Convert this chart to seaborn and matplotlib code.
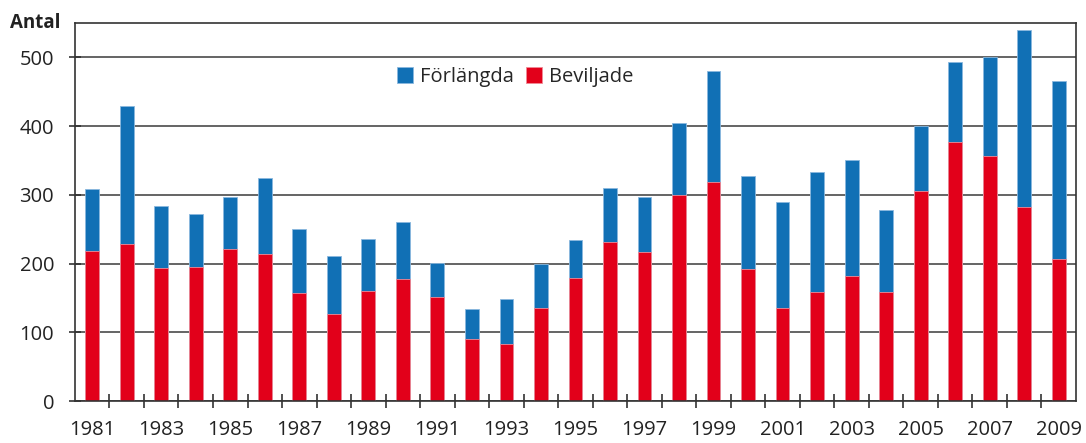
import numpy as np
import pandas as pd
import matplotlib
matplotlib.use('Agg')
import matplotlib.pyplot as plt
import seaborn as sns

# values
years = list(range(1981, 2010))
beviljade = [219, 228, 193, 195, 221, 214, 157, 126, 160, 177,
             151, 90, 83, 135, 179, 231, 217, 300, 318, 192,
             136, 158, 182, 158, 305, 377, 356, 282, 207]
totalt = [308, 429, 284, 272, 297, 325, 250, 211, 236, 260,
          201, 134, 148, 199, 234, 310, 297, 405, 480, 328,
          289, 333, 351, 278, 400, 494, 501, 540, 465]

blue = '#1170b5'
red = '#e2001a'

df = pd.DataFrame({'year': [str(y) for y in years],
                   'beviljade': beviljade,
                   'totalt': totalt})

sns.set_theme(style='white')
plt.rcParams['font.family'] = ['Open Sans', 'DejaVu Sans']

fig = plt.figure(figsize=(10.86, 4.43), dpi=100)
ax = fig.add_axes([0.069, 0.0948, 0.9218, 0.8532])

# stacked bars: total in blue, beviljade in red on top of it
sns.barplot(data=df, x='year', y='totalt', color=blue, width=0.4,
            edgecolor='#8ab8de', linewidth=0.6, saturation=1, ax=ax,
            label='Förlängda')
sns.barplot(data=df, x='year', y='beviljade', color=red, width=0.4,
            edgecolor='#f08a96', linewidth=0.6, saturation=1, ax=ax,
            label='Beviljade')

ax.set_xlim(-0.5, len(years) - 0.5)
ax.set_ylim(0, 550)
ax.set_yticks([0, 100, 200, 300, 400, 500])
ax.yaxis.grid(True, color='#3a3a3a', linewidth=1.1)
ax.set_axisbelow(True)

# labels on odd years only, ticks between bars
pos = np.arange(len(years))
ax.set_xticks(pos)
ax.set_xticklabels([str(y) if y % 2 == 1 else '' for y in years])
ax.set_xticks(pos[:-1] + 0.5, minor=True)
ax.tick_params(axis='x', which='major', length=0, pad=14, labelsize=14.5,
               colors='#222222')
ax.tick_params(axis='x', which='minor', bottom=True, length=10,
               direction='inout', width=1.2, color='#333333')
ax.tick_params(axis='y', left=True, length=8, direction='inout', width=1.2,
               color='#333333', labelsize=14.5, labelcolor='#222222', pad=11)

for s in ax.spines.values():
    s.set_visible(True)
    s.set_color('#333333')
    s.set_linewidth(1.2)

ax.set_xlabel('')
ax.set_ylabel('')
fig.text(0.009, 0.948, 'Antal', fontsize=13.5, fontweight='bold',
         color='#222222', va='center', ha='left')

ax.legend(loc='upper center', bbox_to_anchor=(0.44, 0.905), ncol=2,
          frameon=False, fontsize=14.5, handlelength=0.8, handleheight=0.8,
          handletextpad=0.35, columnspacing=0.6, borderaxespad=0)

fig.savefig('out.png', dpi=100)
